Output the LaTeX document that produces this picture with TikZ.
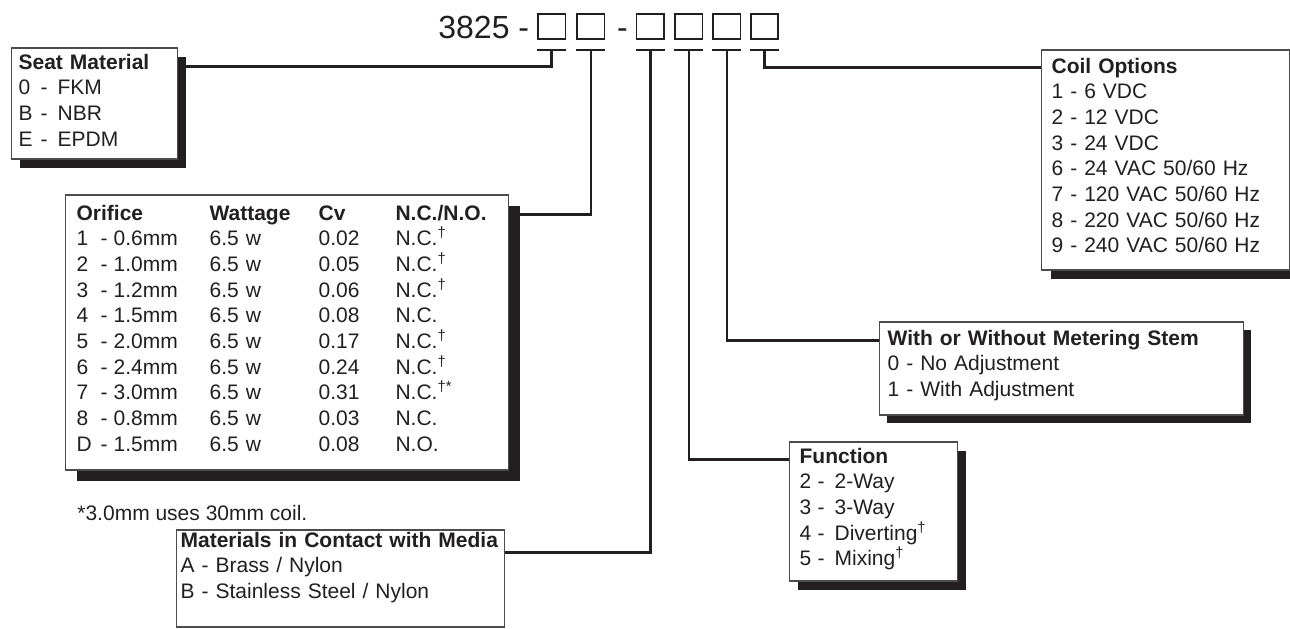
\documentclass[tikz,border=0pt]{standalone}
\usepackage{fontspec}
\setmainfont{Liberation Sans}
\usepackage{tikz}
\usetikzlibrary{shadows}
\definecolor{ink}{HTML}{231F20}
% option rows: code, dash, value
\newcommand{\opt}[3][11pt]{\makebox[#1][l]{#2}\makebox[8.5pt][l]{-}#3}
\newcommand{\orow}[4]{\makebox[12pt][l]{#1}\makebox[6.5pt][l]{-}\makebox[48pt][l]{#2}\makebox[54.5pt][l]{6.5 w}\makebox[38.5pt][l]{#3}#4}
\newcommand{\dg}{\textsuperscript{†}}

\begin{document}
\begin{tikzpicture}[x=0.5pt,y=-0.5pt,color=ink,
	font=\fontsize{10.5}{12.85}\selectfont,
	conn/.style={draw=ink,line width=1.3pt},
	digit/.style={draw=ink,line width=0.8pt,minimum width=13.75pt,minimum height=12.5pt,inner sep=0pt},
	optbox/.style={draw=black!70,line width=0.6pt,fill=white,align=left,anchor=base west,inner ysep=0pt,inner xsep=5pt},
	shade/.style={drop shadow={shadow xshift=#1,shadow yshift=-#1,fill=ink,opacity=1}},
	shade/.default=4.25pt]
			\useasboundingbox (0,0) rectangle (1290,628);
			
			% Part number
			\node[anchor=base west,inner sep=0pt,font=\fontsize{16}{19}\selectfont] (model) at (438,38.3) {3825 -};
			\node[anchor=base,inner sep=0pt,font=\fontsize{16}{19}\selectfont] (dash) at (622.5,38.3) {-};
			\foreach \i/\x in {1/551.7,2/590.8,3/650.3,4/688.8,5/726.8,6/764.5} {
				\node[digit] (d\i) at (\x,26.5) {};
				\draw[conn] ([yshift=-5pt]d\i.south west) -- ([yshift=-5pt]d\i.south east);
			}
			
			% Option boxes
			\node[optbox,inner xsep=3.5pt,text width=76pt,text height=10.5pt,text depth=45pt,shade] (seat) at (11,69)
				{\textbf{Seat Material}\\ \opt{0}{FKM}\\ \opt{B}{NBR}\\ \opt{E}{EPDM}};
			\node[optbox,inner xsep=5.5pt,text width=210.5pt,text height=12.5pt,text depth=125pt,shade=5.5pt] (orifice) at (65,220)
				{\textbf{\makebox[66.5pt][l]{Orifice}\makebox[54.5pt][l]{Wattage}\makebox[38.5pt][l]{Cv}N.C./N.O.}\\
				\orow{1}{0.6mm}{0.02}{N.C.\dg}\\
				\orow{2}{1.0mm}{0.05}{N.C.\dg}\\
				\orow{3}{1.2mm}{0.06}{N.C.\dg}\\
				\orow{4}{1.5mm}{0.08}{N.C.}\\
				\orow{5}{2.0mm}{0.17}{N.C.\dg}\\
				\orow{6}{2.4mm}{0.24}{N.C.\dg}\\
				\orow{7}{3.0mm}{0.31}{N.C.\textsuperscript{†*}}\\
				\orow{8}{0.8mm}{0.03}{N.C.}\\
				\orow{D}{1.5mm}{0.08}{N.O.}};
			\node[anchor=base west,inner sep=0pt] (note) at (77,520) {*3.0mm uses 30mm coil.};
			\node[optbox,inner xsep=2pt,text width=160pt,text height=8.5pt,text depth=40pt] (media) at (176,547)
				{\textbf{Materials in Contact with Media}\\ A - Brass / Nylon\\ B - Stainless Steel / Nylon};
			\node[optbox,text width=74pt,text height=10.5pt,text depth=59pt,shade] (function) at (789,463)
				{\textbf{Function}\\ \opt[9pt]{2}{2-Way}\\ \opt[9pt]{3}{3-Way}\\ \opt[9pt]{4}{Diverting\dg}\\ \opt[9pt]{5}{Mixing\dg}};
			\node[optbox,inner xsep=4pt,text width=174pt,text height=11.5pt,text depth=35pt,shade=3.75pt] (stem) at (879,345)
				{\textbf{With or Without Metering Stem}\\ 0 - No Adjustment\\ 1 - With Adjustment};
			\node[optbox,text width=114pt,text height=11.5pt,text depth=98.5pt,shade=4.5pt] (coil) at (1041,73)
				{\textbf{Coil Options}\\ 1 - 6 VDC\\ 2 - 12 VDC\\ 3 - 24 VDC\\ 6 - 24 VAC 50/60 Hz\\ 7 - 120 VAC 50/60 Hz\\ 8 - 220 VAC 50/60 Hz\\ 9 - 240 VAC 50/60 Hz};
			
			% Leader lines
			\draw[conn] ([yshift=-5pt]d1.south) |- ([yshift=-9.5pt]seat.north east);
			\draw[conn] ([yshift=-5pt]d2.south) |- ([yshift=-10pt]orifice.north east);
			\draw[conn] ([yshift=-5pt]d3.south) |- ([yshift=-11.5pt]media.north east);
			\draw[conn] ([yshift=-5pt]d4.south) |- ([yshift=-9pt]function.north west);
			\draw[conn] ([yshift=-5pt]d5.south) |- ([yshift=-9.5pt]stem.north west);
			\draw[conn] ([yshift=-5pt]d6.south) |- ([yshift=-9pt]coil.north west);
		\end{tikzpicture}
\end{document}
